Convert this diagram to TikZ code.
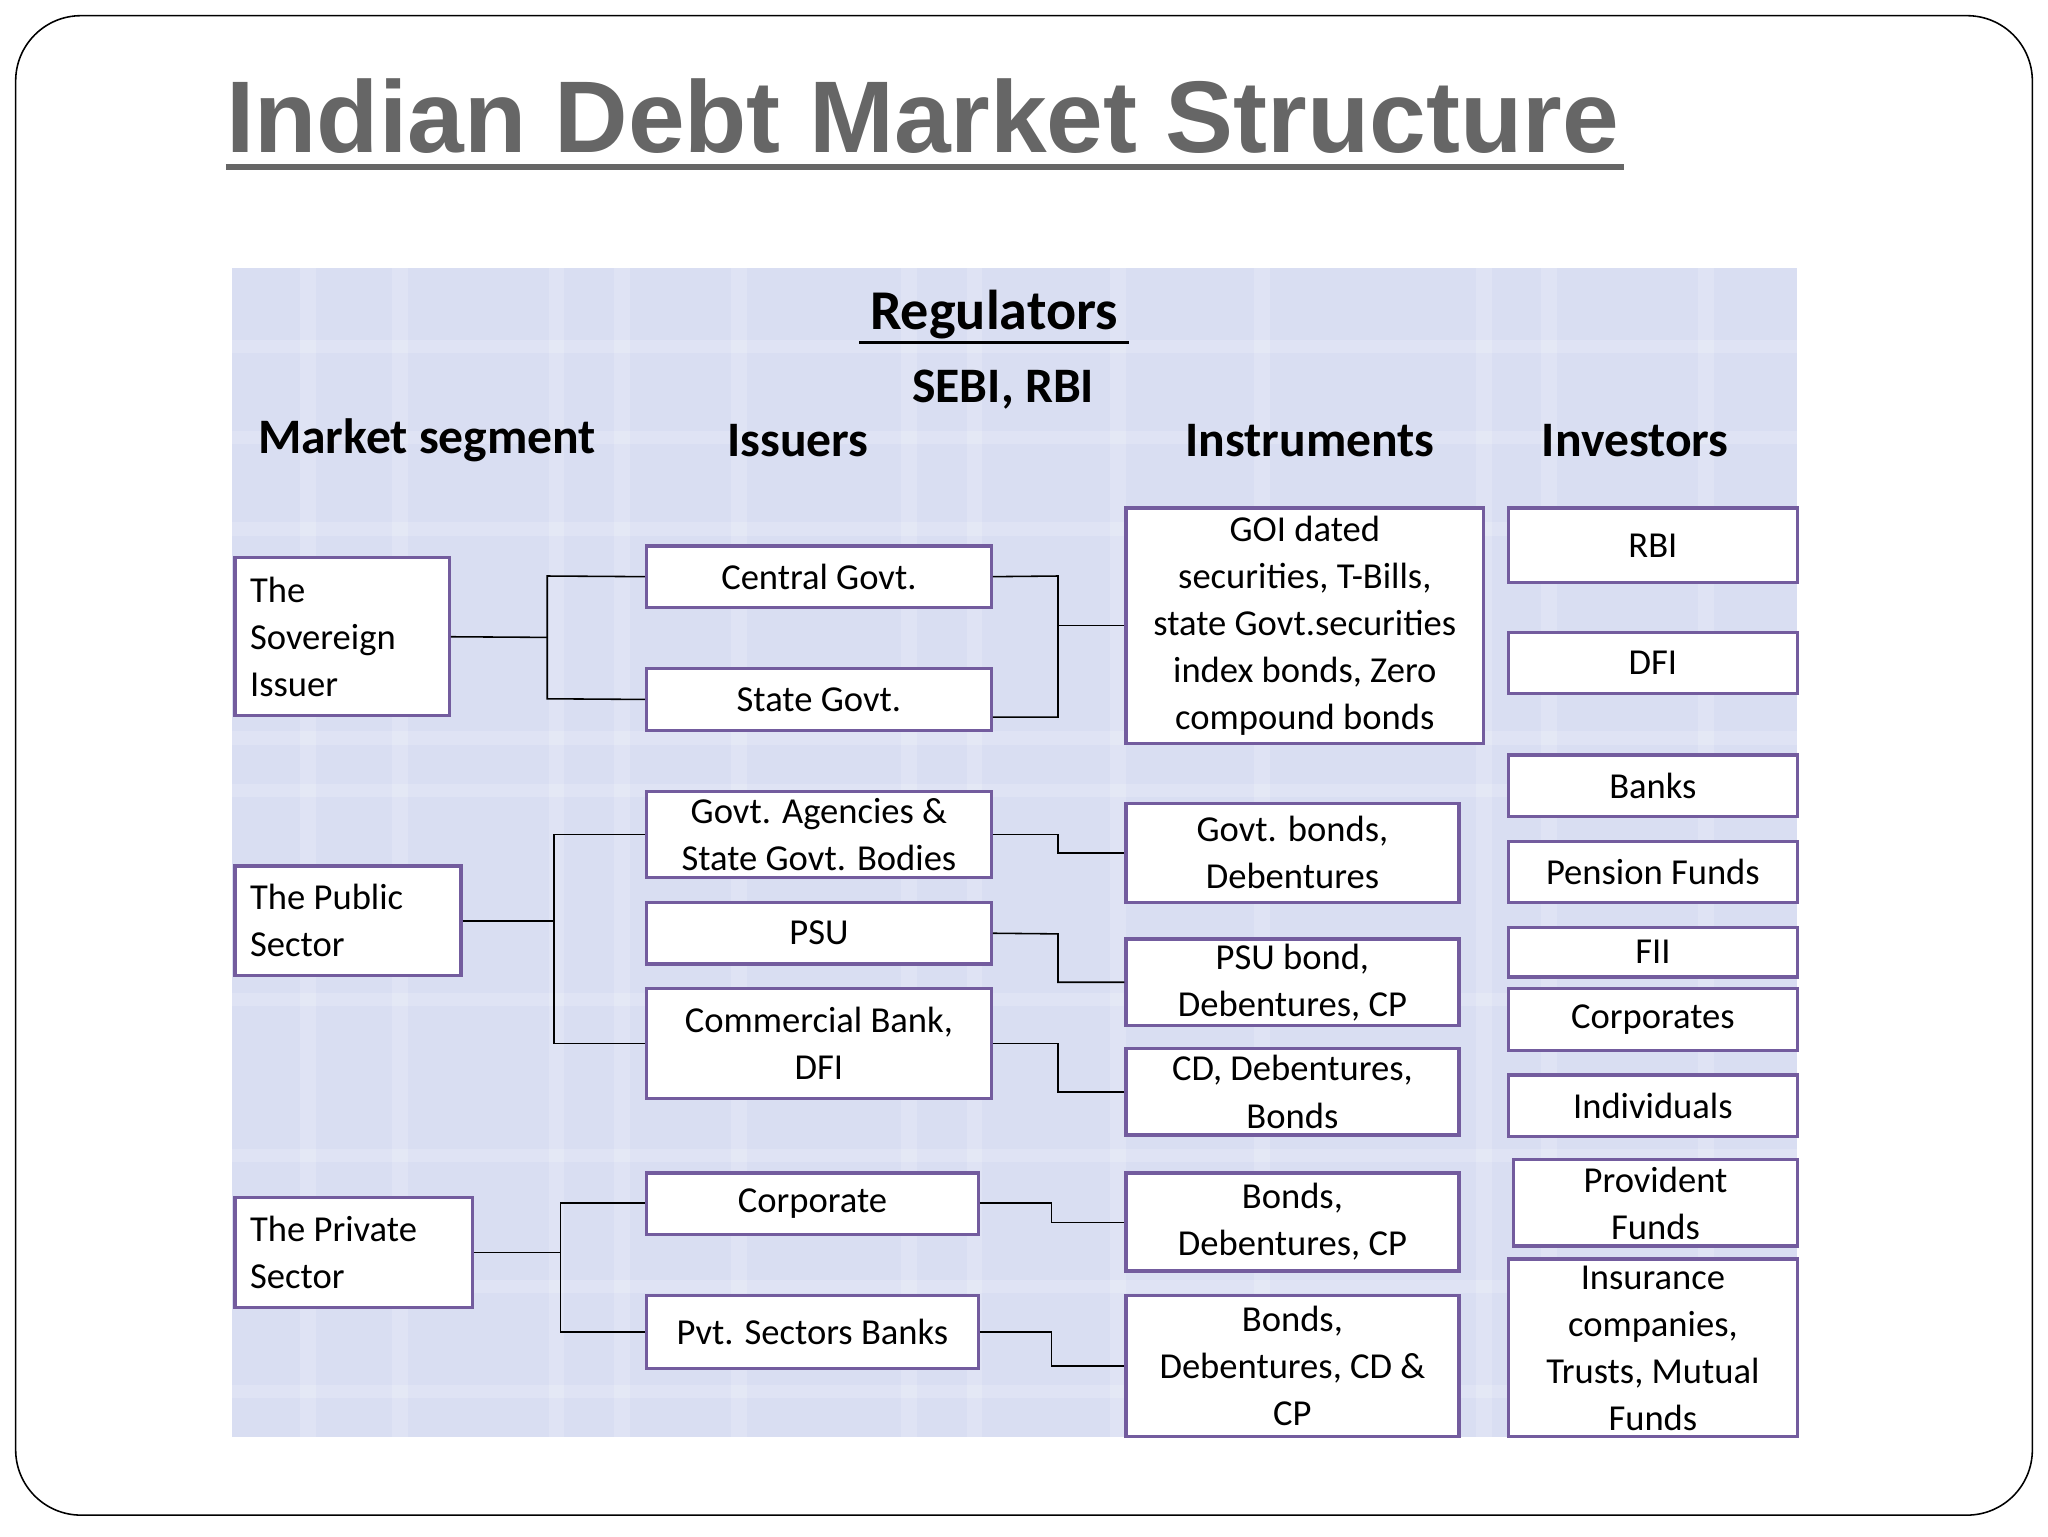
\documentclass[tikz,border=0pt]{standalone}
\usepackage{fontspec}
\setmainfont{Carlito}
\newfontfamily\titlefont{Liberation Sans}
\definecolor{bx}{rgb}{0.45,0.36,0.62}
\definecolor{plaid}{rgb}{0.85,0.87,0.95}
\definecolor{tgray}{rgb}{0.4,0.4,0.4}
\begin{document}
\begin{tikzpicture}[x=1pt,y=-1pt,
  bxs/.style={draw=bx,line width=2.5pt,fill=white,inner sep=0pt,font=\fontsize{28}{36}\selectfont,align=center},
  hd/.style={font=\fontsize{38}{42}\selectfont\bfseries,anchor=center},
  cn/.style={line width=1.2pt}]
\useasboundingbox (0,0) rectangle (1568,1176);
\fill[white] (0,0) rectangle (1568,1176);
\draw[line width=1.2pt,rounded corners=50pt] (12,12) rectangle (1556,1160);
\fill[plaid] (178,205) rectangle (1376,1100);
\foreach \x in {230,300,420,470,560,690,740,850,960,1130,1180,1300}
  \fill[white,opacity=0.18] (\x,205) rectangle (\x+12,1100);
\foreach \y in {260,330,400,560,600,760,880,980,1060}
  \fill[white,opacity=0.18] (178,\y) rectangle (1376,\y+10);
% title
\node[anchor=base west,inner sep=0pt,text=tgray,font=\fontsize{78}{84}\selectfont\titlefont\bfseries] (title) at (173,117) {Indian Debt Market Structure};
\draw[tgray,line width=5pt] (173,128) -- (1243,128);
% headers
\node[hd,font=\fontsize{43}{46}\selectfont\bfseries] (reg) at (761,241) {Regulators};
\draw[line width=2pt] (658,262) -- (864,262);
\node[hd] (sebi) at (768,298) {SEBI, RBI};
\node[hd] (h1) at (327,337) {Market segment};
\node[hd] (h2) at (611,337) {Issuers};
\node[hd] (h3) at (1003,337) {Instruments};
\node[hd] (h4) at (1252,337) {Investors};
% boxes
\newcommand{\bx}[6]{\node[bxs,#6,minimum width=#4-#2,minimum height=#5-#3] (#1) at ({(#2+#4)/2},{(#3+#5)/2}) {};}
\bx{sov}{180}{427}{344}{548}{}
\node[anchor=west,align=left,font=\fontsize{28}{36}\selectfont] at (188,488) {The\\Sovereign\\Issuer};
\bx{pub}{180}{663}{353}{747}{}
\node[anchor=west,align=left,font=\fontsize{28}{36}\selectfont] at (188,705) {The Public\\Sector};
\bx{pvt}{180}{917}{362}{1001}{}
\node[anchor=west,align=left,font=\fontsize{28}{36}\selectfont] at (188,959) {The Private\\Sector};
\newcommand{\tb}[6]{\node[bxs,minimum width=#4-#2,minimum height=#5-#3] (#1) at ({(#2+#4)/2},{(#3+#5)/2}) {#6};}
\tb{cg}{495}{418}{759}{465}{Central Govt.}
\tb{sg}{495}{512}{759}{559}{State Govt.}
\tb{ga}{495}{606}{759}{672}{Govt. Agencies \&\\State Govt. Bodies}
\tb{psu}{495}{691}{759}{738}{PSU}
\tb{cb}{495}{757}{759}{841}{Commercial Bank,\\DFI}
\tb{corp}{495}{898}{749}{945}{Corporate}
\tb{pb}{495}{992}{749}{1048}{Pvt. Sectors Banks}
\tb{goi}{862}{389}{1136}{569}{GOI dated\\securities, T-Bills,\\state Govt.securities\\index bonds, Zero\\compound bonds}
\tb{gb}{862}{615}{1117}{691}{Govt. bonds,\\Debentures}
\tb{psub}{862}{719}{1117}{785}{PSU bond,\\Debentures, CP}
\tb{cd}{862}{803}{1117}{869}{CD, Debentures,\\Bonds}
\tb{bd}{862}{898}{1117}{973}{Bonds,\\Debentures, CP}
\tb{bdc}{862}{992}{1117}{1100}{Bonds,\\Debentures, CD \&\\CP}
\tb{rbi}{1155}{389}{1376}{446}{RBI}
\tb{dfi}{1155}{484}{1376}{531}{DFI}
\tb{banks}{1155}{578}{1376}{625}{Banks}
\tb{pf}{1155}{644}{1376}{691}{Pension Funds}
\tb{fii}{1155}{710}{1376}{748}{FII}
\tb{corps}{1155}{757}{1376}{804}{Corporates}
\tb{ind}{1155}{823}{1376}{870}{Individuals}
\tb{prov}{1159}{888}{1376}{954}{Provident\\Funds}
\tb{ins}{1155}{964}{1376}{1100}{Insurance\\companies,\\Trusts, Mutual\\Funds}
% connectors
\draw[cn] (sov.east) -- (419,488);
\draw[cn] (cg.west) -- (419,441) -- (419,535) -- (sg.west);
\draw[cn] (cg.east) -- (810,441) -- (810,549) -- (sg.south east |- 0,549);
\draw[cn] (810,479) -- (goi.west |- 0,479);
\draw[cn] (pub.east) -- (424,705);
\draw[cn] (ga.west |- 0,639) -- (424,639) -- (424,799) -- (cb.west |- 0,799);
\draw[cn] (ga.east |- 0,639) -- (810,639) -- (810,653) -- (gb.west |- 0,653);
\draw[cn] (psu.east) -- (810,715) -- (810,752) -- (psub.west |- 0,752);
\draw[cn] (cb.east |- 0,799) -- (810,799) -- (810,836) -- (cd.west |- 0,836);
\draw[cn] (pvt.east) -- (429,959);
\draw[cn] (corp.west |- 0,921) -- (429,921) -- (429,1020) -- (pb.west |- 0,1020);
\draw[cn] (corp.east |- 0,921) -- (805,921) -- (805,936) -- (bd.west |- 0,936);
\draw[cn] (pb.east |- 0,1020) -- (805,1020) -- (805,1046) -- (bdc.west |- 0,1046);
\end{tikzpicture}
\end{document}
